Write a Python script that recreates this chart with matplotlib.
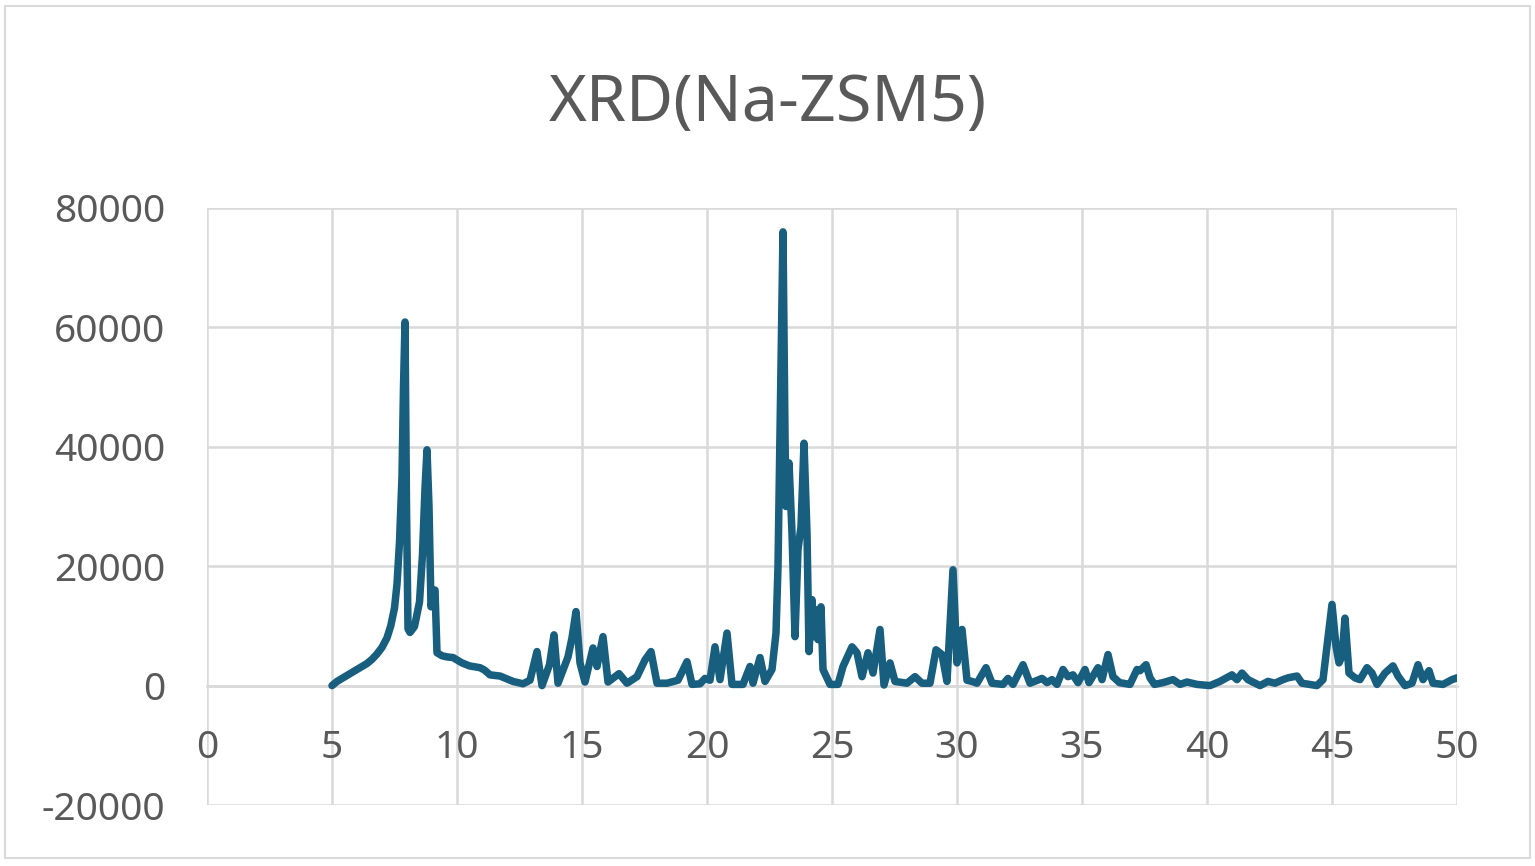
import matplotlib.pyplot as plt
from matplotlib.patches import Rectangle

# values (2-theta in degrees, intensity in counts)
two_theta = [
    5.0, 5.2, 5.4, 5.6, 5.8, 6.0, 6.2, 6.4, 6.6, 6.8, 7.0, 7.2, 7.35, 7.5, 7.6,
    7.7, 7.8, 7.86, 7.92, 7.98, 8.04, 8.12, 8.3, 8.5, 8.62, 8.72, 8.8, 8.88,
    8.96, 9.06, 9.12, 9.2, 9.4, 9.6, 9.84, 10.0, 10.2, 10.5, 10.92, 11.1,
    11.32, 11.72, 12.24, 12.64, 12.92, 13.2, 13.4, 13.7, 13.88, 14.04, 14.44,
    14.6, 14.76, 14.92, 15.12, 15.44, 15.6, 15.84, 16.04, 16.32, 16.48, 16.8,
    17.2, 17.52, 17.76, 18.0, 18.4, 18.84, 19.2, 19.4, 19.72, 19.92, 20.12,
    20.32, 20.52, 20.8, 21.0, 21.44, 21.72, 21.84, 22.12, 22.32, 22.6, 22.76,
    22.84, 22.92, 23.04, 23.12, 23.16, 23.28, 23.4, 23.52, 23.64, 23.76,
    23.88, 24.0, 24.08, 24.2, 24.28, 24.36, 24.44, 24.56, 24.64, 24.92, 25.24,
    25.44, 25.8, 26.0, 26.2, 26.44, 26.64, 26.92, 27.08, 27.32, 27.52, 28.0,
    28.32, 28.6, 28.92, 29.16, 29.4, 29.6, 29.76, 29.84, 30.0, 30.2, 30.4,
    30.6, 30.8, 31.16, 31.4, 31.84, 32.04, 32.24, 32.64, 32.92, 33.4, 33.6,
    33.8, 34.0, 34.24, 34.44, 34.64, 34.84, 35.12, 35.28, 35.64, 35.8, 36.04,
    36.24, 36.5, 36.92, 37.2, 37.32, 37.56, 37.72, 37.9, 38.24, 38.64, 38.92,
    39.2, 39.6, 40.12, 40.52, 41.0, 41.12, 41.2, 41.4, 41.64, 42.12, 42.44,
    42.72, 43.04, 43.24, 43.6, 43.8, 44.4, 44.64, 44.8, 45.0, 45.16, 45.28,
    45.4, 45.52, 45.68, 45.92, 46.12, 46.4, 46.6, 46.8, 47.12, 47.44, 47.64,
    47.92, 48.2, 48.44, 48.64, 48.88, 49.04, 49.44, 49.8, 50.0,
]
intensity = [
    0, 700, 1200, 1700, 2200, 2700, 3200, 3700, 4400, 5300, 6400, 8000, 10000,
    13000, 17000, 24000, 35000, 50000, 60900, 30000, 9500, 8900, 9900, 14000,
    22000, 33000, 39500, 30000, 13200, 15500, 16000, 5500, 5000, 4800, 4700,
    4300, 3800, 3300, 3000, 2600, 1800, 1600, 700, 300, 900, 5700, 0, 3500,
    8500, 400, 4800, 8000, 12400, 3800, 600, 6300, 3200, 8200, 600, 1500, 2000,
    400, 1500, 4300, 5700, 400, 400, 900, 4000, 200, 300, 1200, 900, 6500,
    1000, 8800, 200, 200, 3200, 400, 4700, 700, 2700, 8800, 20000, 42000,
    76000, 42000, 30000, 37300, 25600, 8200, 22800, 26600, 40600, 25600, 5700,
    14400, 8200, 12700, 7700, 13200, 2700, 200, 200, 3200, 6500, 5500, 1500,
    5500, 2100, 9400, 100, 3800, 700, 400, 1500, 400, 400, 6000, 5200, 700,
    13200, 19400, 3800, 9400, 900, 700, 400, 3000, 400, 200, 1200, 200, 3500,
    400, 1200, 500, 1000, 200, 2700, 1500, 1800, 500, 2700, 500, 3000, 1000,
    5200, 1500, 500, 200, 2700, 2500, 3500, 1300, 200, 500, 1000, 200, 600,
    200, 0, 700, 1800, 1300, 1000, 2100, 1000, 0, 700, 400, 1000, 1300, 1600,
    400, 0, 1000, 6600, 13600, 6600, 3800, 4900, 11300, 2100, 1300, 1000,
    3000, 2100, 200, 2100, 3300, 1600, 0, 400, 3500, 1000, 2500, 400, 200,
    1000, 1300,
]

title = 'XRD(Na-ZSM5)'
x_ticks = list(range(0, 51, 5))
y_ticks = list(range(-20000, 80001, 20000))

text_color = '#595959'
grid_color = '#d9d9d9'
line_color = '#175e7f'


def plot_xrd() -> None:
    plt.rcParams['font.family'] = ['Noto Sans', 'DejaVu Sans']
    plt.rcParams['axes.unicode_minus'] = False
    fig = plt.figure(figsize=(15.35, 8.66), dpi=100)
    ax = fig.add_axes([207 / 1535, 1 - 805 / 866, 1250 / 1535, 597 / 866])

    ax.plot(two_theta, intensity, color=line_color, linewidth=5.4,
            solid_joinstyle='round', solid_capstyle='round', zorder=3)

    ax.set_xlim(0, 50)
    ax.set_ylim(-20000, 80000)
    ax.set_xticks(x_ticks)
    ax.set_yticks(y_ticks)
    ax.grid(True, color=grid_color, linewidth=1.8)
    ax.set_axisbelow(True)

    for side in ('top', 'right', 'left'):
        ax.spines[side].set_visible(False)
    ax.spines['bottom'].set_position(('data', 0))
    ax.spines['bottom'].set_color(grid_color)
    ax.spines['bottom'].set_linewidth(1.8)

    ax.tick_params(axis='both', length=0, colors=text_color, labelsize=28)
    ax.tick_params(axis='x', pad=31)
    ax.tick_params(axis='y', pad=30)

    fig.text(0.5, 1 - 104 / 866, title, ha='center', va='center',
             fontsize=46.5, color=text_color)

    fig.patches.append(Rectangle((5 / 1535, 8 / 866), 1525 / 1535, 852 / 866,
                                 transform=fig.transFigure, fill=False,
                                 edgecolor=grid_color, linewidth=1.5))
    fig.savefig('out.png', dpi=100)


if __name__ == '__main__':
    plot_xrd()
